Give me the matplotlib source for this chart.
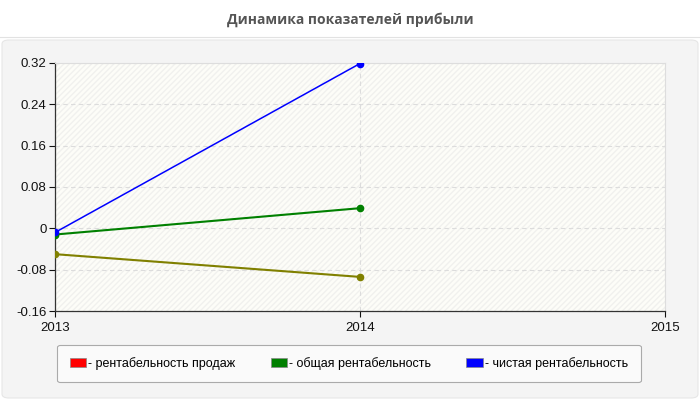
import matplotlib.pyplot as plt
from matplotlib.patches import FancyBboxPatch, Rectangle, Patch

# data
years = [2013, 2014]
sales_profit = [-0.050, -0.094]      # рентабельность продаж (drawn olive)
total_profit = [-0.012, 0.039]       # общая рентабельность
net_profit = [-0.008, 0.319]         # чистая рентабельность
y_ticks = [-0.16, -0.08, 0, 0.08, 0.16, 0.24, 0.32]
y_tick_labels = ["-0.16", "-0.08", "0", "0.08", "0.16", "0.24", "0.32"]
x_ticks = [2013, 2014, 2015]
legend_labels = ["- рентабельность продаж", "- общая рентабельность", "- чистая рентабельность"]
legend_colors = ["#ff0000", "#008000", "#0000ff"]

plt.rcParams['font.family'] = ['Liberation Sans', 'DejaVu Sans']

fig = plt.figure(figsize=(7, 4), dpi=100)
fig.patch.set_facecolor("white")

# grey panel behind the chart
panel = FancyBboxPatch((2 / 700, 2 / 400), 696 / 700, 358 / 400,
                       boxstyle="round,pad=0,rounding_size=0.01",
                       transform=fig.transFigure, facecolor="#f4f4f4",
                       edgecolor="#e6e6e6", lw=0.8, zorder=-10)
fig.patches.append(panel)
fig.add_artist(plt.Line2D([0, 1], [1 - 37 / 400, 1 - 37 / 400], transform=fig.transFigure,
                          color="#e2e2e2", lw=0.8, zorder=-9))

fig.text(0.5, 1 - 20 / 400, "Динамика показателей прибыли", ha="center", va="center",
         fontsize=10, fontweight="bold", color="#555555", family=["Open Sans", "DejaVu Sans"])

ax = fig.add_axes([55 / 700, 1 - 311 / 400, 610 / 700, 248 / 400], zorder=1)
ax.set_facecolor("#fdfdf8")
ax.add_patch(Rectangle((0, 0), 1, 1, transform=ax.transAxes, facecolor="none",
                       edgecolor="#f1f1ee", hatch="//////", lw=0, zorder=0))

ax.grid(True, color="#dcdcdc", linestyle=(0, (4, 3)), lw=0.8)
ax.set_axisbelow(True)

ax.plot(years, sales_profit, color="#808000", lw=1.5, marker="o", ms=4.5, zorder=3)
ax.plot(years, total_profit, color="#008000", lw=1.5, marker="o", ms=4.5, zorder=3)
ax.plot(years, net_profit, color="#0000ff", lw=1.1, marker="o", ms=4.5, zorder=3)

ax.set_xlim(2013, 2015)
ax.set_ylim(-0.16, 0.32)
ax.set_xticks(x_ticks)
ax.set_xticklabels([str(x) for x in x_ticks])
ax.set_yticks(y_ticks)
ax.set_yticklabels(y_tick_labels)
ax.tick_params(labelsize=9.5, colors="#111111", length=4, width=0.8)
ax.tick_params(axis="x", pad=4)
ax.tick_params(axis="y", pad=2)

for side in ["left", "bottom"]:
    ax.spines[side].set_color("#333333")
    ax.spines[side].set_linewidth(0.9)
for side in ["top", "right"]:
    ax.spines[side].set_color("#dddddd")
    ax.spines[side].set_linewidth(0.8)

handles = [Patch(facecolor=c, edgecolor="#888888", lw=0.5) for c in legend_colors]
leg = fig.legend(handles, legend_labels, loc="center", ncol=3,
                 bbox_to_anchor=(349 / 700, 1 - 363.5 / 400), fontsize=9,
                 frameon=True, fancybox=True, handlelength=1.3, handleheight=0.7,
                 handletextpad=0.2, columnspacing=2.8, borderpad=1.0)
frame = leg.get_frame()
frame.set_facecolor("#fafafa")
frame.set_edgecolor("#aaaaaa")
frame.set_linewidth(0.8)
frame.set_alpha(1)

fig.savefig("out.png", dpi=100)
